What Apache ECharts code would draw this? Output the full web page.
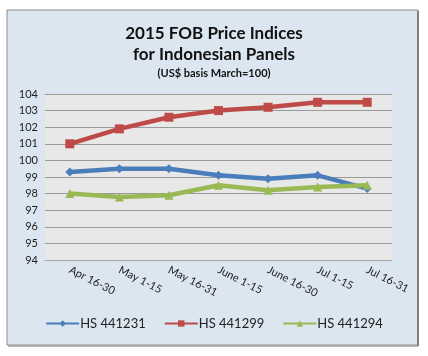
<!DOCTYPE html>
<html><head><meta charset="utf-8">
<script src="https://cdn.jsdelivr.net/npm/echarts@6/dist/echarts.min.js"></script>
<style>html,body{margin:0;padding:0;background:#fff;}#c{width:428px;height:356px;}</style>
</head><body><div id="c"></div>
<script>
const categories = ["Apr 16-30","May 1-15","May 16-31","June 1-15","June 16-30","Jul 1-15","Jul 16-31"];
const hs441231 = [99.3, 99.5, 99.5, 99.1, 98.9, 99.1, 98.3];
const hs441299 = [101.0, 101.9, 102.6, 103.0, 103.2, 103.5, 103.5];
const hs441294 = [98.0, 97.8, 97.9, 98.5, 98.2, 98.4, 98.5];
const seriesNames = ["HS 441231","HS 441299","HS 441294"];

const font = 'Lato, "Open Sans", sans-serif';
const chart = echarts.init(document.getElementById('c'), null, {renderer:'canvas'});
const mk = (name, data, color, symbol, size) => ({
  name, type:'line', data, symbol, symbolSize:size,
  lineStyle:{color, width:4.5}, itemStyle:{color}, z:3
});
chart.setOption({
  animation:false,
  backgroundColor:'#ffffff',
  graphic:[
    {type:'rect', shape:{x:7,y:10,width:411,height:335}, style:{fill:'#dce6f1', stroke:'#8c8c8c', lineWidth:1}, z:-10},
    {type:'line', shape:{x1:418,y1:11,x2:418,y2:346}, style:{stroke:'#7f7f7f', lineWidth:2}, z:-9},
    {type:'line', shape:{x1:8,y1:346,x2:418,y2:346}, style:{stroke:'#9f9f9f', lineWidth:1.5}, z:-9}
  ],
  title:{
    text:'2015 FOB Price Indices\nfor Indonesian Panels',
    subtext:'(US$ basis March=100)',
    left:'center', top:18, itemGap:3,
    textStyle:{fontFamily:font, fontSize:17, fontWeight:'bold', color:'#111', lineHeight:21},
    subtextStyle:{fontFamily:font, fontSize:11, fontWeight:'bold', color:'#111'}
  },
  legend:{
    data:seriesNames, bottom:21, left:'center', itemWidth:33, itemHeight:8, itemGap:18,
    textStyle:{fontFamily:font, fontSize:13, color:'#222', padding:[0,0,0,-4]}
  },
  grid:{left:45, right:36, top:94, bottom:96, show:true, backgroundColor:'#e8e8e8', borderWidth:0},
  xAxis:{
    type:'category', data:categories, boundaryGap:true,
    axisLine:{lineStyle:{color:'#a6a6a6'}}, axisTick:{show:false},
    axisLabel:{rotate:-27, fontFamily:font, fontSize:11, color:'#222', margin:9, interval:0}
  },
  yAxis:{
    type:'value', min:94, max:104, interval:1,
    axisLine:{show:false}, axisTick:{show:false},
    splitLine:{lineStyle:{color:'#9a9a9a', width:1}},
    axisLabel:{fontFamily:font, fontSize:11, color:'#222', margin:7}
  },
  series:[
    mk(seriesNames[0], hs441231, '#4a7ebb', 'diamond', 9),
    mk(seriesNames[1], hs441299, '#be4b48', 'rect', 9),
    mk(seriesNames[2], hs441294, '#98b954', 'triangle', 9)
  ]
});
</script></body></html>
